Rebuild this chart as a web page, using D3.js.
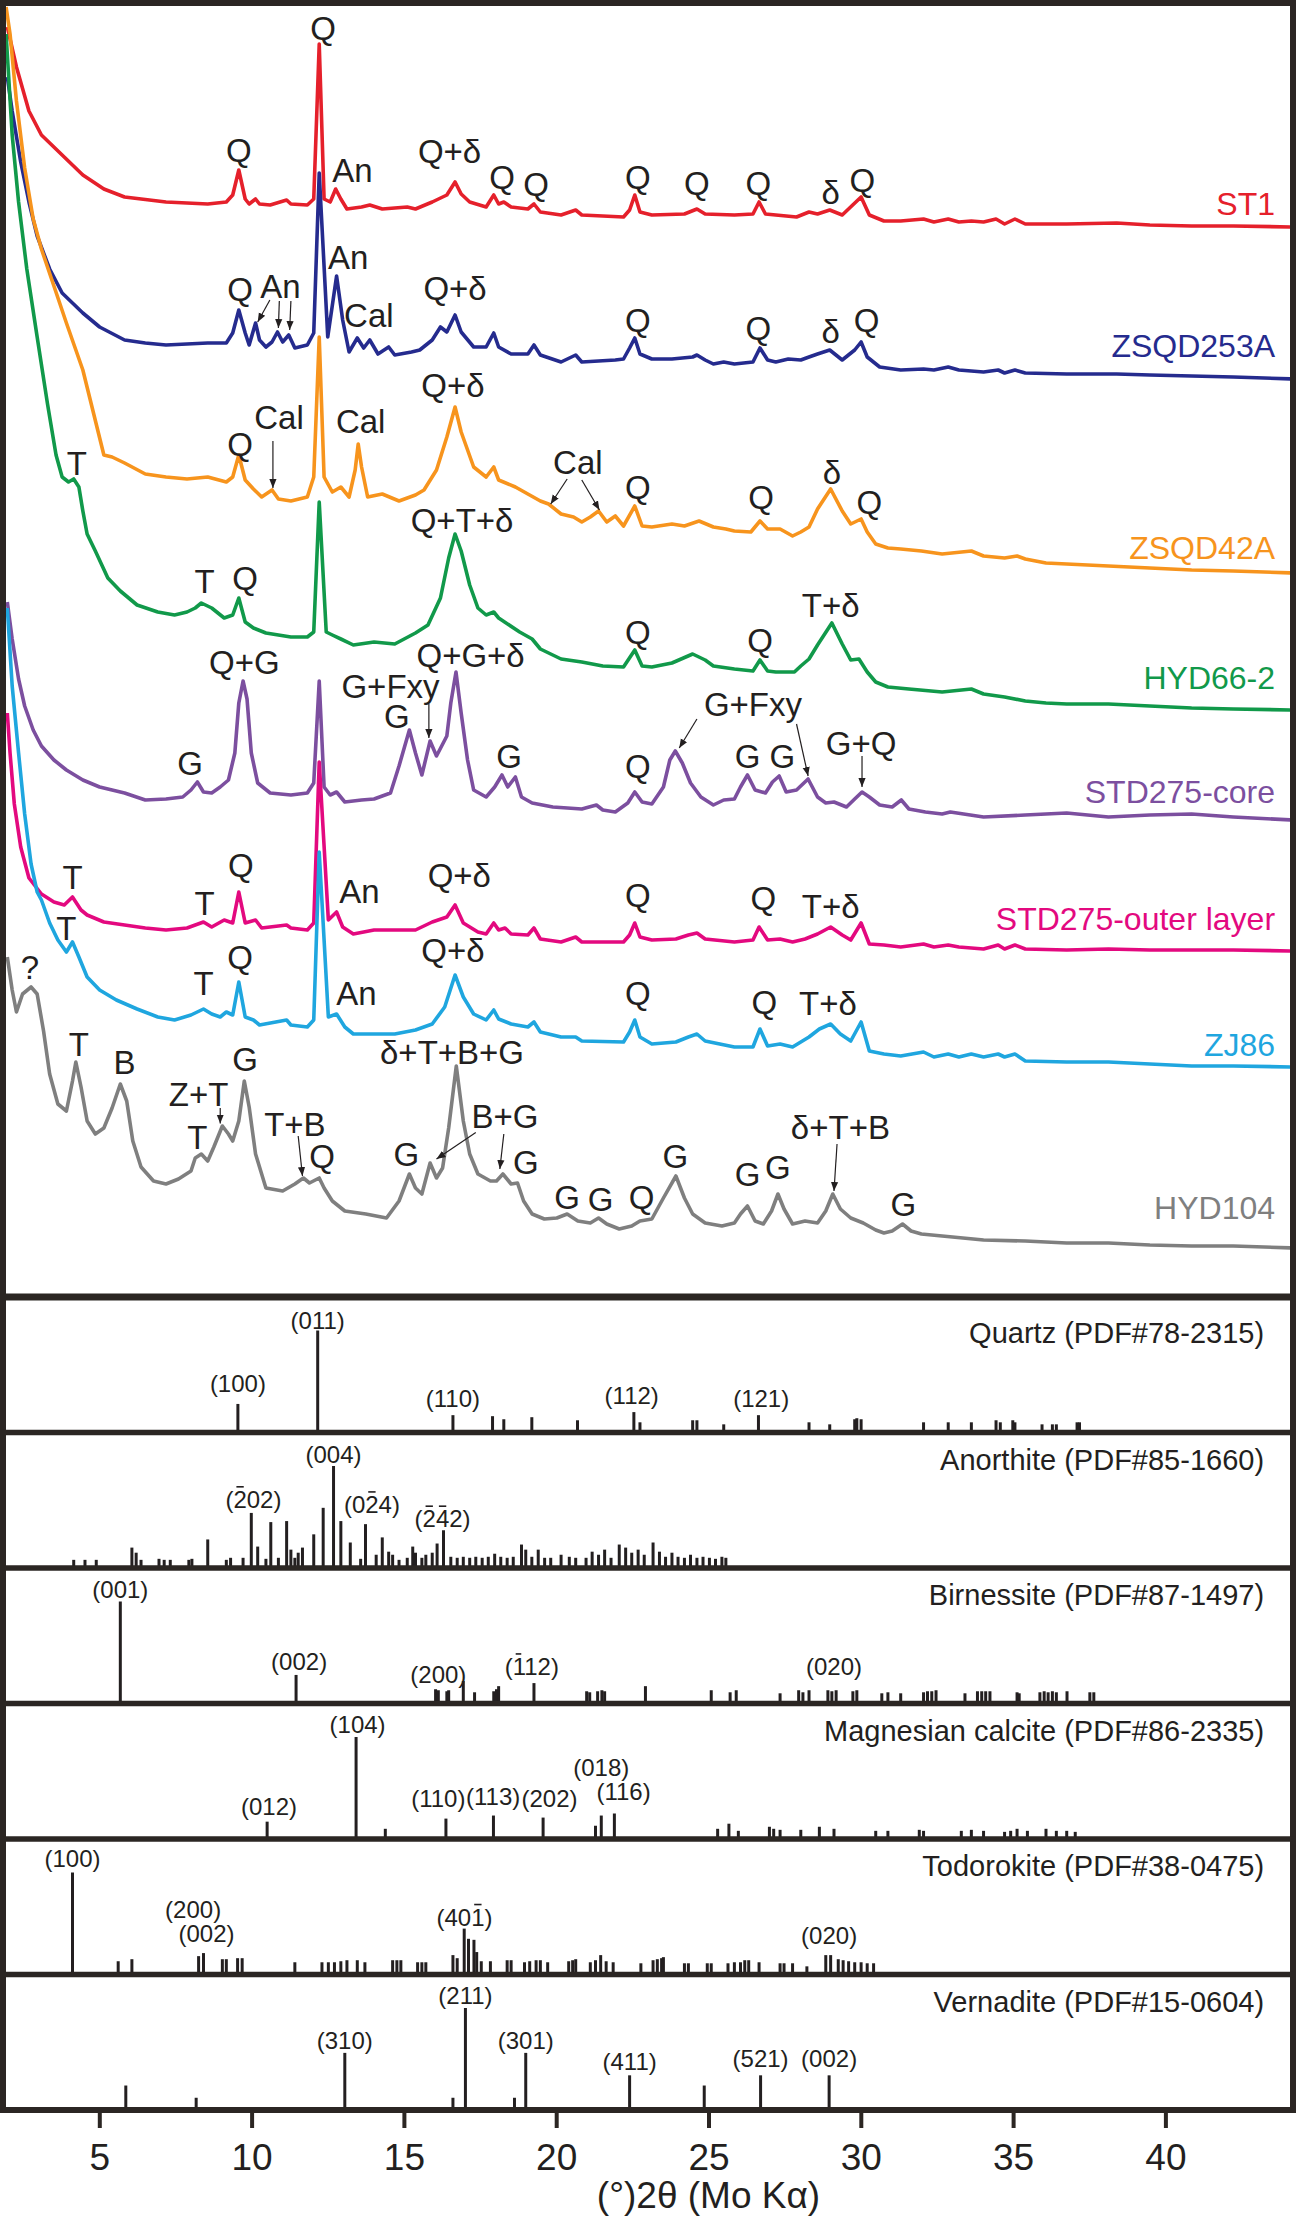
<!DOCTYPE html>
<html>
<head>
<meta charset="utf-8">
<script src="https://cdn.jsdelivr.net/npm/d3@7"></script>
<style>
  html, body { margin: 0; padding: 0; background: #fff; }
  svg { display: block; font-family: "Liberation Sans", Arial, Helvetica, sans-serif; }
</style>
</head>
<body>
<div id="chart"></div>
<script>
// ---- sample patterns: [2theta (deg), intensity (a.u., stacked)] ----
var st1 = [[1.98,127.0],[2.28,123.0],[2.69,118.6],[3.10,116.2],[3.78,114.2],[4.46,112.2],[5.15,110.8],[5.83,110.0],[7.19,109.5],[8.56,109.3],[9.17,109.5],[9.38,110.2],[9.58,112.7],[9.79,109.8],[9.92,109.3],[10.13,109.8],[10.26,109.3],[10.61,109.2],[11.15,109.7],[11.29,109.3],[11.83,109.2],[12.04,109.8],[12.22,125.3],[12.38,109.8],[12.58,109.5],[12.76,110.8],[12.93,109.8],[13.13,108.8],[13.61,109.0],[13.88,109.2],[14.29,108.8],[15.11,109.0],[15.38,108.8],[15.93,109.5],[16.41,110.2],[16.68,111.5],[16.88,110.3],[17.16,109.5],[17.70,109.0],[17.95,110.2],[18.11,109.3],[18.28,109.5],[18.52,109.0],[19.07,108.8],[19.27,109.3],[19.48,108.5],[20.16,108.2],[20.64,108.7],[20.84,108.2],[22.21,108.0],[22.41,108.7],[22.58,110.2],[22.75,108.5],[23.14,108.2],[24.21,108.3],[24.62,108.8],[24.89,108.3],[25.85,108.2],[26.46,108.3],[26.66,109.5],[26.87,108.3],[27.21,108.2],[27.89,108.0],[28.30,108.5],[28.58,108.3],[28.98,108.7],[29.39,108.2],[30.01,110.0],[30.28,108.2],[30.76,107.6],[31.31,107.6],[32.06,107.8],[32.40,107.5],[32.87,107.8],[33.22,107.5],[33.63,107.6],[34.03,107.5],[34.44,107.8],[34.72,107.3],[35.06,107.8],[35.40,107.3],[36.76,107.3],[38.40,107.4],[39.49,107.2],[40.86,107.1],[42.23,107.1],[44.2,107.0]];

var zsqd253a = [[1.98,122.0],[2.14,118.6],[2.42,113.5],[2.69,109.5],[2.96,106.1],[3.37,102.8],[3.78,100.4],[4.46,98.4],[5.01,97.0],[5.83,95.7],[6.51,95.4],[7.19,95.2],[8.56,95.4],[9.17,95.4],[9.38,96.4],[9.58,98.7],[9.79,96.4],[9.92,95.2],[10.13,97.4],[10.26,95.7],[10.47,95.0],[10.67,95.5],[10.85,96.5],[11.02,95.5],[11.22,96.2],[11.42,94.9],[11.83,95.2],[12.04,96.4],[12.22,112.4],[12.50,96.0],[12.79,102.1],[12.99,97.7],[13.20,94.5],[13.47,95.9],[13.68,94.9],[13.88,95.7],[14.15,94.3],[14.50,95.0],[14.70,94.2],[15.25,94.5],[15.52,94.7],[15.93,95.7],[16.20,97.0],[16.41,96.5],[16.68,98.2],[16.88,96.5],[17.29,95.0],[17.70,95.0],[17.95,96.4],[18.11,95.0],[18.52,94.3],[19.07,94.3],[19.27,95.2],[19.48,94.2],[20.16,93.5],[20.64,94.2],[20.84,93.5],[21.94,93.7],[22.21,93.8],[22.41,94.9],[22.58,95.9],[22.75,94.3],[23.14,93.8],[23.80,93.8],[24.48,94.0],[24.62,94.2],[24.89,93.7],[25.16,93.3],[25.50,93.5],[25.85,93.3],[26.46,93.5],[26.69,94.9],[26.94,93.7],[27.21,93.5],[27.62,93.8],[28.03,93.7],[28.30,94.0],[28.58,94.3],[28.98,94.7],[29.39,93.7],[29.80,94.7],[30.01,95.5],[30.21,94.0],[30.62,93.0],[31.31,92.7],[32.06,92.8],[32.40,92.7],[32.87,93.0],[33.22,92.7],[34.03,92.5],[34.51,92.7],[34.72,92.4],[35.06,92.7],[35.40,92.4],[36.76,92.3],[38.40,92.3],[39.49,92.2],[40.86,92.1],[42.23,92.0],[44.2,91.8]];

var zsqd42a = [[1.94,129.0],[2.07,126.3],[2.28,119.6],[2.55,112.9],[2.83,107.8],[3.10,104.8],[3.51,101.1],[3.92,97.4],[4.46,92.7],[5.15,84.2],[5.42,84.0],[5.83,83.4],[6.51,82.3],[7.19,82.0],[7.88,81.8],[8.56,82.0],[9.17,81.5],[9.38,82.0],[9.58,84.2],[9.79,81.7],[10.06,80.8],[10.33,80.0],[10.67,80.7],[10.88,79.8],[11.29,79.6],[11.83,80.0],[12.04,82.0],[12.22,96.0],[12.38,82.0],[12.65,80.5],[12.93,81.0],[13.20,80.0],[13.40,82.7],[13.50,85.3],[13.61,83.0],[13.81,80.0],[14.29,80.3],[14.84,79.6],[15.38,80.2],[15.66,80.7],[16.07,82.7],[16.41,86.0],[16.68,89.0],[16.88,86.5],[17.29,83.0],[17.70,82.0],[17.95,83.0],[18.11,81.7],[18.66,81.0],[19.07,80.3],[19.48,79.6],[19.75,79.3],[20.16,78.3],[20.57,78.0],[20.84,77.5],[21.12,78.0],[21.39,78.6],[21.66,77.5],[21.94,78.1],[22.21,77.1],[22.58,79.1],[22.82,77.1],[23.14,77.0],[23.80,77.3],[24.21,77.1],[24.69,77.6],[25.16,77.0],[25.57,76.8],[25.85,76.6],[26.39,76.5],[26.69,77.6],[26.94,76.8],[27.35,76.8],[27.76,76.1],[28.03,76.5],[28.30,77.0],[28.58,78.8],[29.01,80.8],[29.39,78.6],[29.67,77.3],[30.01,77.8],[30.21,76.5],[30.49,75.3],[30.89,74.9],[31.31,74.8],[31.99,74.6],[32.67,74.3],[33.63,74.6],[34.03,74.1],[34.72,73.9],[35.13,74.1],[35.40,73.8],[36.08,73.4],[36.76,73.3],[38.13,73.1],[39.49,72.9],[40.86,72.7],[42.23,72.6],[44.2,72.4]];

var hyd66_2 = [[1.94,126.3],[2.14,116.2],[2.35,109.5],[2.62,102.8],[2.96,96.0],[3.30,89.3],[3.58,84.2],[3.78,82.0],[3.99,81.5],[4.16,81.8],[4.33,81.0],[4.46,78.6],[4.60,76.3],[4.87,74.6],[5.28,71.9],[5.69,70.6],[6.24,69.2],[6.92,68.5],[7.47,68.2],[7.88,68.5],[8.15,68.9],[8.35,69.4],[8.69,68.9],[9.10,67.9],[9.38,68.2],[9.58,69.9],[9.79,67.5],[10.06,66.9],[10.47,66.4],[11.29,66.0],[11.83,66.0],[12.04,66.5],[12.22,79.5],[12.45,66.5],[12.65,66.2],[12.93,65.8],[13.34,65.2],[14.02,65.5],[14.70,65.3],[15.38,66.4],[15.79,67.2],[16.20,69.9],[16.47,73.9],[16.68,76.3],[16.88,74.6],[17.16,71.2],[17.43,68.9],[17.70,68.2],[17.95,68.5],[18.11,67.9],[18.80,66.5],[19.21,65.8],[19.48,64.8],[20.16,63.8],[20.84,63.5],[21.53,63.1],[22.21,63.0],[22.58,64.7],[22.82,63.1],[23.14,63.0],[23.80,63.4],[24.48,64.3],[24.89,63.7],[25.16,63.1],[25.85,62.8],[26.46,62.6],[26.69,63.7],[26.94,62.6],[27.21,62.5],[27.82,62.5],[28.03,63.1],[28.30,63.8],[28.58,65.2],[29.05,67.4],[29.39,65.3],[29.67,63.7],[29.94,63.8],[30.21,62.5],[30.49,61.5],[30.89,61.0],[31.58,60.8],[32.67,60.5],[33.63,60.8],[34.03,60.3],[34.72,60.0],[35.40,59.6],[36.08,59.4],[36.76,59.3],[38.13,59.3],[39.49,59.1],[40.86,58.9],[42.23,58.8],[44.2,58.7]];

var std275Core = [[1.98,69.5],[2.14,65.8],[2.35,61.8],[2.55,59.1],[2.83,56.7],[3.10,55.1],[3.51,53.7],[3.92,52.7],[4.46,51.7],[5.01,51.0],[5.83,50.4],[6.51,49.7],[7.19,49.8],[7.74,50.0],[8.01,50.7],[8.22,51.5],[8.42,50.5],[8.69,50.4],[8.97,51.0],[9.24,51.7],[9.45,54.4],[9.58,59.4],[9.72,61.6],[9.85,59.8],[9.99,54.4],[10.20,51.4],[10.61,50.4],[11.29,50.2],[11.83,50.4],[12.04,51.4],[12.22,61.6],[12.38,51.0],[12.58,50.2],[12.79,50.5],[13.06,49.5],[13.61,49.7],[14.02,49.8],[14.56,50.4],[14.84,53.1],[15.18,56.7],[15.38,54.4],[15.59,52.2],[15.86,55.6],[16.07,54.1],[16.41,56.1],[16.54,59.4],[16.71,62.5],[16.88,58.4],[17.09,53.7],[17.29,50.7],[17.70,50.0],[17.98,51.0],[18.22,52.2],[18.41,51.0],[18.66,52.0],[18.86,50.0],[19.21,49.4],[19.89,49.0],[20.84,48.8],[21.32,49.2],[21.53,48.7],[21.94,48.5],[22.35,49.4],[22.58,50.5],[22.82,49.5],[23.14,49.3],[23.52,51.0],[23.73,53.7],[23.91,54.6],[24.14,53.4],[24.41,51.4],[24.75,50.0],[25.16,49.2],[25.50,49.7],[25.85,49.8],[26.05,51.0],[26.28,52.2],[26.53,50.7],[26.87,50.4],[27.10,51.5],[27.32,52.1],[27.55,50.5],[27.89,50.7],[28.27,51.8],[28.58,50.0],[28.85,49.4],[29.12,49.5],[29.53,49.0],[29.80,49.8],[30.04,50.5],[30.28,50.0],[30.62,49.2],[31.03,49.0],[31.33,49.7],[31.58,48.8],[32.12,48.5],[32.67,48.3],[32.94,48.5],[34.03,48.0],[35.40,48.2],[36.08,48.3],[36.76,48.4],[38.13,48.0],[39.49,48.2],[40.86,48.3],[42.23,48.0],[44.2,47.7]];

var std275Outer = [[1.98,58.4],[2.07,54.4],[2.21,49.3],[2.42,45.0],[2.69,41.9],[3.10,40.3],[3.51,39.5],[3.85,39.2],[4.12,40.0],[4.40,38.7],[4.60,38.2],[5.15,37.5],[5.83,37.2],[6.51,36.9],[7.19,36.7],[7.88,36.9],[8.42,37.5],[8.69,37.0],[9.10,37.7],[9.38,37.4],[9.58,40.5],[9.79,37.4],[10.13,37.7],[10.33,36.9],[11.15,37.2],[11.29,36.9],[11.83,36.7],[12.04,37.4],[12.22,53.5],[12.52,37.7],[12.79,38.5],[12.99,37.0],[13.34,36.3],[14.02,36.7],[15.38,36.7],[15.93,37.5],[16.41,38.0],[16.68,39.2],[16.95,37.4],[17.43,36.5],[17.70,36.3],[17.95,37.4],[18.11,36.7],[18.32,36.9],[18.52,36.3],[19.07,36.2],[19.27,36.9],[19.48,35.8],[20.16,35.5],[20.64,36.0],[20.84,35.5],[22.21,35.5],[22.41,36.2],[22.58,37.4],[22.75,36.0],[23.14,35.7],[23.93,35.8],[24.34,36.2],[24.62,36.4],[24.89,35.8],[25.85,35.5],[26.46,35.7],[26.66,37.0],[26.94,35.7],[27.35,35.8],[27.76,35.5],[28.17,35.8],[28.58,36.3],[29.01,37.0],[29.39,36.2],[29.67,35.7],[30.01,37.4],[30.28,35.3],[30.76,35.2],[31.31,35.0],[32.06,35.3],[32.40,35.0],[32.87,35.2],[33.22,35.0],[34.03,34.8],[34.51,35.2],[34.72,34.8],[35.06,35.2],[35.40,34.8],[36.76,34.7],[38.13,34.8],[39.49,34.7],[40.86,34.7],[42.23,34.7],[44.2,34.6]];

var zj86 = [[1.98,68.9],[2.14,61.1],[2.35,54.4],[2.55,48.3],[2.76,43.3],[2.96,40.5],[3.10,39.7],[3.37,37.4],[3.64,35.7],[3.92,34.5],[4.12,35.5],[4.33,34.0],[4.60,32.0],[5.01,30.7],[5.56,29.7],[6.24,28.8],[6.92,28.0],[7.47,27.7],[8.01,28.2],[8.42,28.8],[8.69,28.3],[8.97,28.0],[9.17,28.5],[9.38,28.2],[9.58,31.5],[9.79,28.0],[10.06,27.7],[10.26,27.2],[11.15,27.7],[11.29,27.2],[11.83,27.0],[12.04,27.7],[12.22,44.5],[12.52,28.0],[12.79,28.3],[13.06,27.0],[13.34,26.3],[14.02,26.3],[14.70,26.3],[15.38,26.7],[15.93,27.3],[16.34,29.0],[16.68,32.2],[16.95,30.0],[17.29,28.3],[17.70,27.7],[17.95,28.7],[18.11,27.8],[18.52,27.3],[19.07,27.0],[19.27,27.5],[19.48,26.5],[20.16,26.0],[20.64,26.0],[20.84,25.6],[22.21,25.5],[22.41,26.5],[22.58,27.7],[22.75,26.0],[23.14,25.3],[23.93,25.5],[24.34,26.0],[24.62,26.3],[24.89,25.6],[25.85,25.0],[26.46,25.0],[26.69,26.8],[26.94,25.1],[27.35,25.3],[27.76,25.0],[28.30,26.0],[28.64,26.8],[29.01,27.3],[29.33,26.3],[29.67,25.6],[30.01,27.5],[30.28,24.6],[30.76,24.3],[31.31,24.1],[32.06,24.5],[32.40,24.0],[32.87,24.3],[33.22,24.0],[33.63,24.3],[34.03,24.0],[34.51,24.3],[34.72,24.0],[35.06,24.3],[35.40,23.6],[36.76,23.5],[38.13,23.5],[39.49,23.3],[40.86,23.1],[42.23,23.1],[44.2,23.0]];

var hyd104 = [[1.98,34.0],[2.14,30.7],[2.28,28.5],[2.48,30.3],[2.76,31.0],[2.96,30.3],[3.17,26.6],[3.37,22.3],[3.64,19.3],[3.92,18.6],[4.12,21.6],[4.23,23.5],[4.40,21.0],[4.60,17.6],[4.87,16.3],[5.15,16.9],[5.42,18.9],[5.69,21.3],[5.90,19.6],[6.10,15.6],[6.37,13.0],[6.78,11.6],[7.19,11.3],[7.60,11.8],[8.01,12.6],[8.15,13.9],[8.35,14.3],[8.56,13.6],[8.76,15.0],[9.04,17.1],[9.24,16.3],[9.38,15.6],[9.58,17.6],[9.76,21.6],[9.92,19.0],[10.13,14.3],[10.47,10.9],[11.02,10.6],[11.42,11.3],[11.70,11.9],[11.90,11.4],[12.22,11.9],[12.38,10.9],[12.65,9.6],[13.06,8.6],[13.75,8.3],[14.43,7.9],[14.84,9.6],[15.18,12.3],[15.38,10.9],[15.59,10.3],[15.86,13.4],[16.07,11.9],[16.27,12.9],[16.47,16.9],[16.72,23.1],[16.95,17.6],[17.16,14.3],[17.43,12.3],[17.84,11.6],[18.04,11.6],[18.25,12.3],[18.52,11.3],[18.73,11.4],[18.93,9.6],[19.21,8.3],[19.61,7.8],[20.02,7.9],[20.36,8.3],[20.71,7.6],[21.12,7.4],[21.39,7.9],[21.66,7.3],[22.07,6.8],[22.48,7.1],[22.75,7.6],[23.14,7.8],[23.52,9.9],[23.93,12.1],[24.21,9.9],[24.48,8.3],[24.89,7.4],[25.44,7.1],[25.85,7.4],[26.05,8.3],[26.28,9.1],[26.53,7.6],[26.80,7.3],[27.07,8.6],[27.28,10.3],[27.48,8.8],[27.76,7.3],[28.17,7.6],[28.58,7.4],[28.85,8.6],[29.08,10.3],[29.33,8.8],[29.67,7.9],[30.08,7.4],[30.49,6.7],[30.76,6.4],[31.03,6.6],[31.37,7.3],[31.65,6.6],[31.99,6.3],[32.67,6.1],[34.03,5.7],[35.40,5.6],[36.76,5.4],[38.13,5.4],[39.49,5.2],[40.86,5.1],[42.23,5.1],[44.2,4.9]];

var sampleNames = ["ST1", "ZSQD253A", "ZSQD42A", "HYD66-2", "STD275-core", "STD275-outer layer", "ZJ86", "HYD104"];
var sampleColors = ["#e5202b", "#252b8e", "#f7941d", "#11994a", "#7c4f9f", "#e3097f", "#1fa6df", "#7f7f7f"];
var sampleNameLevel = [108.2, 94.0, 73.8, 60.8, 49.4, 36.7, 24.1, 7.8];

// peak annotations: [label, 2theta, level]
var peakLabels = [
  ["Q",12.35,125.7],["Q",9.58,113.5],["An",13.31,111.5],["Q+δ",16.5,113.4],["Q",18.22,110.8],["Q",19.34,110.1],["Q",22.68,110.8],["Q",24.62,110.2],["Q",26.64,110.2],["δ",29.01,109.3],["Q",30.05,110.5],
  ["An",13.17,102.8],["Q",9.62,99.6],["An",10.95,99.9],["Cal",13.85,97.0],["Q+δ",16.68,99.7],["Q",22.68,96.5],["Q",26.64,95.7],["δ",29.01,95.4],["Q",30.19,96.5],
  ["Q+δ",16.61,90.0],["Cal",10.9,86.8],["Cal",13.58,86.4],["Q",9.62,84.1],["Cal",20.71,82.3],["Q",22.68,79.8],["Q",26.73,78.8],["δ",29.05,81.3],["Q",30.28,78.3],
  ["T",4.26,82.2],["T",8.46,70.4],["Q",9.79,70.7],["Q+T+δ",16.91,76.5],["Q",22.68,65.3],["Q",26.69,64.5],["T+δ",29.01,68.0],
  ["Q+G",9.76,62.3],["G+Fxy",14.56,59.9],["G",14.77,56.9],["Q+G+δ",17.19,63.0],["G",7.98,52.2],["G",18.45,52.9],["Q",22.68,51.9],["G+Fxy",26.46,58.1],["G",26.28,52.9],["G",27.42,52.9],["G+Q",30.01,54.2],
  ["T",4.12,40.8],["Q",9.65,42.0],["T",8.46,38.2],["An",13.54,39.4],["Q+δ",16.82,41.0],["Q",22.68,39.0],["Q",26.8,38.7],["T+δ",29.01,37.9],
  ["T",3.92,35.7],["Q",9.62,32.8],["T",8.42,30.2],["An",13.44,29.2],["Q+δ",16.61,33.5],["Q",22.68,29.2],["Q",26.83,28.3],["T+δ",28.92,28.2],
  ["?",2.72,31.8],["T",4.33,24.1],["B",5.83,22.3],["Z+T",8.26,19.1],["T",8.22,14.8],["G",9.79,22.6],["T+B",11.42,16.1],["Q",12.31,12.9],["δ+T+B+G",16.58,23.3],["B+G",18.32,16.9],["G",15.08,13.1],["G",19.0,12.3],["G",20.36,8.8],["G",21.46,8.6],["Q",22.8,8.8],["G",23.91,12.9],["G",26.28,11.1],["G",27.28,11.8],["δ+T+B",29.33,15.8],["G",31.4,8.1]
];

// arrows: [x1, level1, x2, level2]
var arrows = [
  [10.6,99.7,10.2,97.5],[10.91,99.6,10.88,96.9],[11.29,99.6,11.25,96.7],
  [10.7,85.6,10.7,80.9],[20.36,81.8,19.82,79.3],[20.84,81.7,21.42,78.7],
  [15.82,59.3,15.82,55.9],[24.62,57.8,24.04,54.9],[27.89,57.3,28.27,52.1],[30.04,54.1,30.04,51.0],
  [8.97,18.9,8.97,17.35],[11.53,16.1,11.67,12.1],[17.36,16.45,16.07,13.8],[18.28,16.3,18.15,12.8],[29.22,15.3,29.12,10.6]
];

// ---- reference patterns: [2theta, relative intensity] ----
var quartzSticks = [[9.55,28],[12.17,100],[16.61,17],[17.91,16],[18.28,13],[19.2,15],[20.7,12],[22.55,20],[22.75,10],[24.48,12],[24.62,12],[25.5,8],[26.64,17],[28.3,10],[28.98,8],[29.8,13],[29.87,14],[30.01,13],[32.06,10],[32.87,10],[33.63,10],[34.44,12],[34.58,10],[34.99,12],[35.06,10],[35.95,8],[36.29,8],[36.42,8],[37.1,10],[37.18,10]];
var anorthiteSticks = [[4.16,8],[4.53,8],[4.9,8],[6.07,20],[6.21,15],[6.37,8],[6.96,9],[7.13,8],[7.33,8],[7.94,8],[8.04,9],[8.56,28],[9.17,8],[9.31,10],[9.72,10],[9.99,54],[10.2,21],[10.47,9],[10.63,45],[10.88,10],[11.15,46],[11.29,18],[11.42,10],[11.53,15],[11.67,20],[12.04,33],[12.35,59],[12.69,100],[12.93,46],[13.24,25],[13.58,9],[13.74,43],[14.09,13],[14.29,30],[14.5,16],[14.63,13],[14.84,8],[15.11,10],[15.29,21],[15.38,15],[15.59,10],[15.72,13],[15.93,15],[16.09,24],[16.3,37],[16.54,11],[16.75,10],[16.95,11],[17.16,10],[17.36,11],[17.57,10],[17.77,11],[17.98,14],[18.18,11],[18.39,10],[18.59,11],[18.86,23],[19.0,18],[19.2,11],[19.41,18],[19.62,10],[19.82,10],[20.16,13],[20.43,11],[20.64,10],[20.98,10],[21.18,16],[21.39,13],[21.59,18],[21.8,10],[22.07,23],[22.28,20],[22.48,15],[22.69,18],[22.89,13],[23.18,25],[23.39,16],[23.59,11],[23.8,15],[24.0,11],[24.21,10],[24.41,13],[24.62,10],[24.82,11],[25.03,10],[25.23,9],[25.44,11],[25.57,10]];
var birnessiteSticks = [[5.69,100],[11.46,28],[16.04,14],[16.13,13],[16.41,12],[16.47,13],[16.95,22],[17.32,11],[17.95,12],[18.04,14],[18.11,17],[19.27,20],[21.0,12],[21.1,11],[21.36,12],[21.5,13],[21.59,12],[22.93,17],[25.09,13],[25.71,11],[25.91,13],[27.35,10],[27.96,13],[28.1,11],[28.3,13],[28.92,13],[29.05,12],[29.19,13],[29.74,12],[29.87,13],[30.69,10],[30.89,11],[31.31,10],[32.06,11],[32.19,12],[32.33,12],[32.47,13],[33.42,10],[33.83,12],[33.97,12],[34.1,12],[34.24,12],[35.13,11],[35.2,10],[35.88,11],[36.02,12],[36.15,11],[36.29,12],[36.42,11],[36.77,12],[37.52,11],[37.65,11]];
var calciteSticks = [[10.51,17],[13.43,100],[14.39,10],[16.38,20],[17.94,23],[19.57,21],[21.29,13],[21.48,23],[21.91,25],[25.3,10],[25.67,15],[25.98,8],[27.0,12],[27.14,10],[27.35,9],[28.03,9],[28.64,12],[29.12,10],[30.49,8],[30.89,8],[31.92,9],[32.06,8],[33.3,8],[33.63,9],[34.03,8],[34.72,7],[34.92,8],[35.13,10],[35.47,8],[36.08,10],[36.42,8],[36.76,8],[37.04,7]];
var todorokiteSticks = [[4.12,100],[5.62,13],[6.07,15],[8.26,18],[8.42,21],[9.04,15],[9.17,15],[9.54,16],[9.69,16],[11.42,12],[12.31,12],[12.52,12],[12.72,12],[12.93,13],[13.13,14],[13.47,14],[13.72,12],[14.63,14],[14.77,14],[14.9,14],[15.45,12],[15.59,12],[15.72,12],[16.61,19],[16.75,16],[16.98,45],[17.12,35],[17.3,34],[17.39,22],[17.54,13],[17.84,13],[18.39,14],[18.52,14],[18.96,12],[19.13,13],[19.34,14],[19.48,14],[19.72,12],[20.41,13],[20.54,14],[20.64,15],[21.12,12],[21.29,14],[21.46,19],[21.64,13],[21.87,12],[22.78,11],[23.18,14],[23.32,15],[23.46,16],[23.52,17],[24.21,11],[24.34,11],[24.96,11],[25.09,11],[25.64,11],[25.85,12],[26.05,12],[26.19,14],[26.32,14],[26.66,12],[27.35,11],[27.48,11],[27.76,11],[28.23,8],[28.85,19],[29.01,19],[29.26,15],[29.42,14],[29.6,13],[29.8,12],[30.01,12],[30.21,11],[30.42,11]];
var vernaditeSticks = [[5.87,24],[8.18,12],[13.06,56],[16.61,12],[17.02,100],[18.63,12],[19.0,56],[22.41,34],[24.86,24],[26.71,34],[28.96,34]];

var phaseNames = ["Quartz (PDF#78-2315)", "Anorthite (PDF#85-1660)", "Birnessite (PDF#87-1497)", "Magnesian calcite (PDF#86-2335)", "Todorokite (PDF#38-0475)", "Vernadite (PDF#15-0604)"];

// hkl labels: [2theta, level, text]  ("-" before a digit = overbar)
var quartzHkl = [[9.55,40,"(100)"],[12.17,101,"(011)"],[16.61,25,"(110)"],[22.48,28,"(112)"],[26.73,25,"(121)"]];
var anorthiteHkl = [[10.06,59,"(-202)"],[12.69,103,"(004)"],[13.95,54,"(0-24)"],[16.27,40,"(-2-42)"]];
var birnessiteHkl = [[5.69,103,"(001)"],[11.56,33,"(002)"],[16.13,20,"(200)"],[19.2,28,"(-112)"],[29.12,28,"(020)"]];
var calciteHkl = [[10.57,24,"(012)"],[13.48,104,"(104)"],[16.13,31,"(110)"],[17.93,33,"(113)"],[19.78,31,"(202)"],[21.48,62,"(018)"],[22.21,38,"(116)"]];
var todorokiteHkl = [[4.12,105,"(100)"],[8.08,55,"(200)"],[8.52,32,"(002)"],[16.99,48,"(40-1)"],[28.96,30,"(020)"]];
var vernaditeHkl = [[13.06,60,"(310)"],[17.02,104,"(211)"],[19.0,60,"(301)"],[22.41,39,"(411)"],[26.71,42,"(521)"],[28.96,42,"(002)"]];

var xTicks = [5, 10, 15, 20, 25, 30, 35, 40];

// ---- layout ----
var W = 1299, H = 2219;
var plotLeft = 3, plotRight = 1293, plotTop = 3, mainBottom = 1297, panelH = 135.5, figBottom = 2110;
var ink = "#231f20", frame = "#2b2623";

var samples = [st1, zsqd253a, zsqd42a, hyd66_2, std275Core, std275Outer, zj86, hyd104].map(function(d, i) {
  return { name: sampleNames[i], color: sampleColors[i], level: sampleNameLevel[i], data: d };
});
var phases = [quartzSticks, anorthiteSticks, birnessiteSticks, calciteSticks, todorokiteSticks, vernaditeSticks].map(function(d, i) {
  return { name: phaseNames[i], sticks: d, hkl: [quartzHkl, anorthiteHkl, birnessiteHkl, calciteHkl, todorokiteHkl, vernaditeHkl][i] };
});

var x = d3.scaleLinear().domain([5, 40]).range([99.3, 1165.4]);
var y = d3.scaleLinear().domain([0, 129.4]).range([mainBottom, plotTop]);

var svg = d3.select("#chart").append("svg")
  .attr("width", W).attr("height", H);

svg.append("rect").attr("width", W).attr("height", H).attr("fill", "#fff");

var defs = svg.append("defs");
defs.append("clipPath").attr("id", "mainClip")
  .append("rect").attr("x", plotLeft + 3).attr("y", plotTop + 3)
  .attr("width", plotRight - plotLeft - 6).attr("height", mainBottom - plotTop - 6);
defs.append("marker").attr("id", "head")
  .attr("viewBox", "0 0 10 10").attr("refX", 10).attr("refY", 5)
  .attr("markerWidth", 9).attr("markerHeight", 9).attr("markerUnits", "userSpaceOnUse")
  .attr("orient", "auto")
  .append("path").attr("d", "M0,1 L10,5 L0,9 Z").attr("fill", ink);

// curves
var line = d3.line()
  .x(function(d) { return x(d[0]); })
  .y(function(d) { return y(d[1]); });

svg.append("g").attr("clip-path", "url(#mainClip)")
  .selectAll("path")
  .data(samples)
  .enter().append("path")
    .attr("d", function(d) { return line(d.data); })
    .attr("fill", "none")
    .attr("stroke", function(d) { return d.color; })
    .attr("stroke-width", 3.6)
    .attr("stroke-linejoin", "round");

// sample names
svg.append("g").selectAll("text")
  .data(samples)
  .enter().append("text")
    .attr("x", x(43.6))
    .attr("y", function(d) { return y(d.level); })
    .attr("text-anchor", "end")
    .attr("font-size", 32)
    .attr("fill", function(d) { return d.color; })
    .text(function(d) { return d.name; });

// peak labels
svg.append("g").selectAll("text")
  .data(peakLabels)
  .enter().append("text")
    .attr("x", function(d) { return x(d[1]); })
    .attr("y", function(d) { return y(d[2]); })
    .attr("text-anchor", "middle")
    .attr("font-size", 33)
    .attr("fill", ink)
    .text(function(d) { return d[0]; });

// arrows
svg.append("g").selectAll("line")
  .data(arrows)
  .enter().append("line")
    .attr("x1", function(d) { return x(d[0]); })
    .attr("y1", function(d) { return y(d[1]); })
    .attr("x2", function(d) { return x(d[2]); })
    .attr("y2", function(d) { return y(d[3]); })
    .attr("stroke", ink)
    .attr("stroke-width", 1.2)
    .attr("marker-end", "url(#head)");

// reference stick panels
function hklText(g, str, px, py) {
  var bars = [], plain = "";
  for (var i = 0; i < str.length; i++) {
    if (str[i] === "-") { bars.push(plain.length); } else { plain += str[i]; }
  }
  var t = g.append("text")
    .attr("x", px).attr("y", py)
    .attr("text-anchor", "middle")
    .attr("font-size", 24)
    .attr("fill", ink)
    .text(plain);
  bars.forEach(function(ci) {
    var ext = t.node().getExtentOfChar(ci);
    g.append("line")
      .attr("x1", ext.x + 3).attr("x2", ext.x + ext.width - 3)
      .attr("y1", py - 21).attr("y2", py - 21)
      .attr("stroke", ink).attr("stroke-width", 1.6);
  });
}

phases.forEach(function(p, i) {
  var pTop = mainBottom + i * panelH, pBottom = pTop + panelH;
  var ys = d3.scaleLinear().domain([0, 100]).range([pBottom, pBottom - 102]);
  var g = svg.append("g").attr("class", "phase");

  g.selectAll("line.stick")
    .data(p.sticks)
    .enter().append("line")
      .attr("class", "stick")
      .attr("x1", function(d) { return x(d[0]); })
      .attr("x2", function(d) { return x(d[0]); })
      .attr("y1", pBottom)
      .attr("y2", function(d) { return ys(d[1]); })
      .attr("stroke", ink)
      .attr("stroke-width", 3);

  p.hkl.forEach(function(h) { hklText(g, h[2], x(h[0]), ys(h[1])); });

  g.append("text")
    .attr("x", x(43.24))
    .attr("y", pTop + (i === 0 ? 46 : 37))
    .attr("text-anchor", "end")
    .attr("font-size", 29)
    .attr("fill", ink)
    .text(p.name);
});

// frame and panel separators
var frameG = svg.append("g");
frameG.append("rect")
  .attr("x", plotLeft).attr("y", plotTop)
  .attr("width", plotRight - plotLeft).attr("height", figBottom - plotTop)
  .attr("fill", "none").attr("stroke", frame).attr("stroke-width", 6);
frameG.selectAll("line")
  .data(d3.range(6))
  .enter().append("line")
    .attr("x1", plotLeft).attr("x2", plotRight)
    .attr("y1", function(i) { return mainBottom + i * panelH; })
    .attr("y2", function(i) { return mainBottom + i * panelH; })
    .attr("stroke", frame)
    .attr("stroke-width", function(i) { return i === 0 ? 7 : 5.5; });

// x axis
var xAxis = d3.axisBottom(x)
  .tickValues(xTicks)
  .tickSize(16)
  .tickPadding(16)
  .tickFormat(d3.format("d"));

var axisG = svg.append("g")
  .attr("transform", "translate(0," + (figBottom + 2) + ")")
  .call(xAxis);
axisG.select(".domain").remove();
axisG.selectAll(".tick line").attr("stroke", frame).attr("stroke-width", 4);
axisG.selectAll(".tick text")
  .attr("font-size", 37)
  .attr("font-family", "Liberation Sans, Arial, sans-serif")
  .attr("fill", ink);

svg.append("text")
  .attr("x", x(25))
  .attr("y", 2208)
  .attr("text-anchor", "middle")
  .attr("font-size", 37)
  .attr("fill", ink)
  .text("(°)2θ (Mo Kα)");
</script>
</body>
</html>
